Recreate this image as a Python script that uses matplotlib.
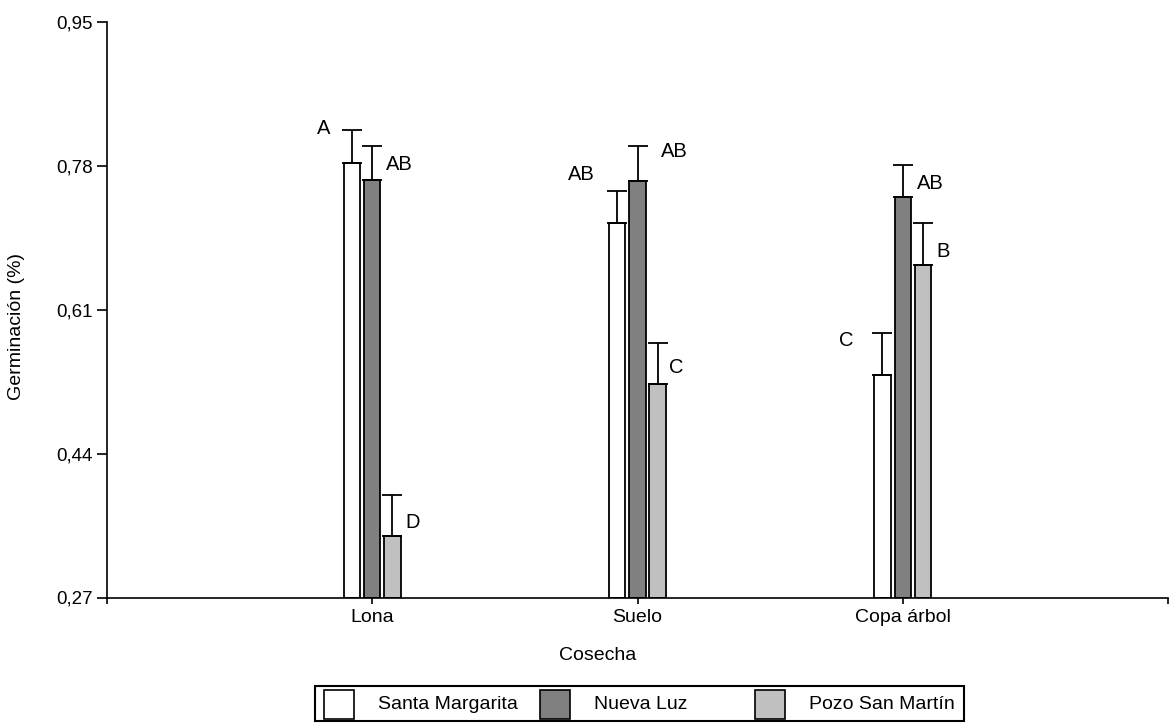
import numpy as np
import matplotlib.pyplot as plt
from matplotlib.patches import Rectangle

plt.rcParams['font.family'] = ['Liberation Sans', 'DejaVu Sans']

# germination by harvest method and seed source
cosecha = ["Lona", "Suelo", "Copa árbol"]
procedencias = ["Santa Margarita", "Nueva Luz", "Pozo San Martín"]
germ = {
    "Santa Margarita": [0.783, 0.7125, 0.533],
    "Nueva Luz": [0.763, 0.762, 0.743],
    "Pozo San Martín": [0.343, 0.522, 0.663],
}
germ_err = {
    "Santa Margarita": [0.039, 0.038, 0.050],
    "Nueva Luz": [0.040, 0.041, 0.038],
    "Pozo San Martín": [0.048, 0.049, 0.0495],
}
letras = {
    "Santa Margarita": ["A", "AB", "C"],
    "Nueva Luz": ["AB", "AB", "AB"],
    "Pozo San Martín": ["D", "C", "B"],
}
y_ticks = [0.27, 0.44, 0.61, 0.78, 0.95]

colores = {"Santa Margarita": "white", "Nueva Luz": "#808080", "Pozo San Martín": "#c0c0c0"}
offsets = {"Santa Margarita": -0.077, "Nueva Luz": 0.0, "Pozo San Martín": 0.076}
# letter placement relative to the top of each error bar (pixels)
letra_pos = {
    "Santa Margarita": [(-28, 1.5), (-36, 16), (-36.5, -8)],
    "Nueva Luz": [(27, -18.5), (36.5, -5), (28, -18.5)],
    "Pozo San Martín": [(20.5, -27), (19, -24.5), (20.5, -28.5)],
}

W, H = 1171, 724
fig = plt.figure(figsize=(W / 100, H / 100), dpi=100)
ax = fig.add_axes([107 / W, (H - 597.5) / H, (1168 - 107) / W, (597.5 - 22) / H])

x = np.arange(1, len(cosecha) + 1)
bar_w = 0.062

for p in procedencias:
    xs = x + offsets[p]
    vals = np.array(germ[p])
    errs = np.array(germ_err[p])
    ax.bar(xs, vals - 0.27, bottom=0.27, width=bar_w, color=colores[p],
           edgecolor="black", linewidth=1.3, zorder=2)
    ax.errorbar(xs, vals, yerr=[np.zeros_like(errs), errs], fmt="none",
                ecolor="black", elinewidth=1.3, capsize=7.2, capthick=1.3, zorder=3)
    for xi, v, e, t, (dx, dy) in zip(xs, vals, errs, letras[p], letra_pos[p]):
        ax.annotate(t, xy=(xi, v + e), xytext=(dx, dy), textcoords="offset pixels",
                    ha="center", va="center", fontsize=14.5)

ax.set_xlim(0, 4)
ax.set_ylim(0.27, 0.95)
ax.set_xticks([0, 1, 2, 3, 4])
ax.set_xticklabels([""] + cosecha + [""], fontsize=14)
ax.set_yticks(y_ticks)
ax.set_yticklabels([f"{v:.2f}".replace(".", ",") for v in y_ticks], fontsize=13.5)

for s in ["top", "right"]:
    ax.spines[s].set_visible(False)
for s in ["left", "bottom"]:
    ax.spines[s].set_linewidth(1.2)
ax.tick_params(axis="y", length=7, width=1.2, pad=3)
ax.tick_params(axis="x", length=4.5, width=1.2, pad=3.5)

ax.set_xlabel("Cosecha", fontsize=14, va="center")
ax.xaxis.set_label_coords((598 - 107) / 1061, (597.5 - 655) / 575.5)
ax.set_ylabel("Germinación (%)", fontsize=14, va="center")
ax.yaxis.set_label_coords((17 - 107) / 1061, (597.5 - 326) / 575.5)

# legend box under the axes, fixed-width columns
def fx(px):
    return px / W

def fy(py):
    return (H - py) / H

fig.add_artist(Rectangle((fx(315), fy(721)), fx(964) - fx(315), fy(686) - fy(721),
                         transform=fig.transFigure, facecolor="white",
                         edgecolor="black", linewidth=1.5))
for i, p in enumerate(procedencias):
    left = 324 + i * 215.5
    fig.add_artist(Rectangle((fx(left), fy(719)), fx(30), fy(690) - fy(719),
                             transform=fig.transFigure, facecolor=colores[p],
                             edgecolor="black", linewidth=1.2))
    fig.text(fx(left + 54), fy(704.5), p, ha="left", va="center", fontsize=14)

fig.savefig("out.png", dpi=100)
